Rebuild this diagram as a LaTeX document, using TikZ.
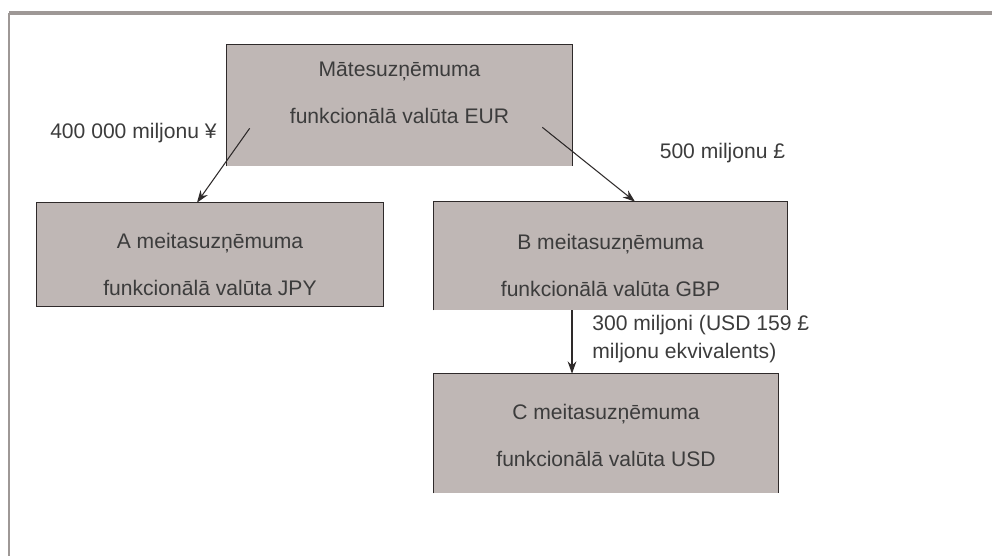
\documentclass[tikz,border=0pt]{standalone}
\usepackage{fontspec}
\setmainfont{Liberation Sans}
\usepackage{xcolor}
\usetikzlibrary{positioning,arrows.meta}

\definecolor{caixa}{HTML}{BFB7B5}
\definecolor{borda}{HTML}{2E2A2A}
\definecolor{moldura}{HTML}{9E9896}
\definecolor{texto}{HTML}{3C3C3C}

\tikzset{
  empresa/.style={rectangle, fill=caixa, text=texto, align=center, inner sep=0pt,
    text depth=0pt, font=\fontsize{12}{26.7}\selectfont},
  fluxo/.style={-{Stealth[length=7pt,width=5pt]}, draw=borda, line width=0.6pt},
  valor/.style={text=texto, inner sep=0pt, font=\fontsize{12}{15.9}\selectfont},
}

\begin{document}
\begin{tikzpicture}
        \useasboundingbox (0,0) rectangle (19.84,-11.12);
        % moldura (linha superior e lateral)
        \draw[moldura, line width=2.3pt] (0.18,-0.26) -- (19.84,-0.26);
        \draw[moldura, line width=1pt] (0.18,-0.26) -- (0.18,-11.12);
        % mãe: EUR
        \node[empresa, minimum width=6.9cm, minimum height=2.42cm, text height=0.72cm] (mate) at (7.99,-2.11) {Mātesuzņēmuma\\funkcionālā valūta EUR};
        % filhas A, B e C
        \node[empresa, minimum width=6.92cm, minimum height=2.06cm, text height=1.64cm] (A) at (4.2,-5.09) {A meitasuzņēmuma\\funkcionālā valūta JPY};
        \node[empresa, minimum width=7.06cm, minimum height=2.16cm, text height=1.62cm] (B) at (12.21,-5.12) {B meitasuzņēmuma\\funkcionālā valūta GBP};
        \node[empresa, minimum width=6.88cm, minimum height=2.38cm, text height=1.32cm] (C) at (12.12,-8.67) {C meitasuzņēmuma\\funkcionālā valūta USD};
        % bordas das caixas
        \draw[borda, line width=0.9pt] (A.south west) rectangle (A.north east);
        \foreach \e in {mate,B,C}
            \draw[borda, line width=0.9pt] (\e.south west) |- (\e.north east) -- (\e.south east);
        % setas e valores
        \draw[fluxo] ([xshift=0.46cm,yshift=0.76cm]mate.south west) -- ([xshift=-0.26cm]A.north);
        \draw[fluxo] ([xshift=-0.6cm,yshift=0.78cm]mate.south east) -- ([xshift=0.49cm]B.north);
        \coordinate (bc) at ([xshift=-0.77cm]B.south);
        \draw[fluxo] (bc) -- (bc |- C.north);
        \node[valor] (yen) at (2.67,-2.66) {400 000 miljonu ¥};
        \node[valor] (sterl) at (14.45,-3.06) {500 miljonu £};
        \node[valor, anchor=west, align=left] (usd) at (11.84,-6.78) {300 miljoni (USD 159 £\\miljonu ekvivalents)};
    \end{tikzpicture}
\end{document}
